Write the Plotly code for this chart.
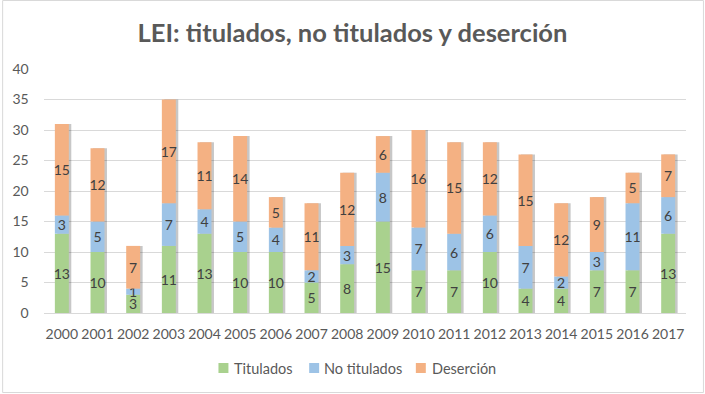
import plotly.graph_objects as go

years = [str(y) for y in range(2000, 2018)]
titulados = [13, 10, 3, 11, 13, 10, 10, 5, 8, 15, 7, 7, 10, 4, 4, 7, 7, 13]
no_titulados = [3, 5, 1, 7, 4, 5, 4, 2, 3, 8, 7, 6, 6, 7, 2, 3, 11, 6]
desercion = [15, 12, 7, 17, 11, 14, 5, 11, 12, 6, 16, 15, 12, 15, 12, 9, 5, 7]

series_names = ["Titulados", "No titulados", "Deserción"]
series_values = [titulados, no_titulados, desercion]
series_colors = ["#a9d18e", "#9dc3e6", "#f4b183"]

FONT = "Lato, 'Open Sans', sans-serif"

W, H = 705, 394
ml, mr, mt, mb = 42, 19, 69, 81
pw, ph = W - ml - mr, H - mt - mb
cat_px = pw / len(years)          # pixels per category
bar_w = 14 / cat_px               # bar width in category units
shadow_dx = 2.5 / cat_px          # shadow offset to the right

# stacked bases computed from the data
bases = []
acc = [0] * len(years)
for vals in series_values:
    bases.append(list(acc))
    acc = [a + v for a, v in zip(acc, vals)]
totals = acc

fig = go.Figure()
# soft drop shadow behind each stacked column
fig.add_trace(go.Bar(
    x=years, y=totals, showlegend=False, hoverinfo="skip",
    width=bar_w, offset=-bar_w / 2 + shadow_dx,
    marker=dict(color="rgba(0,0,0,0.22)", line=dict(width=0)),
))
for name, vals, base, color in zip(series_names, series_values, bases, series_colors):
    fig.add_trace(go.Bar(
        x=years, y=vals, base=base, name=name, showlegend=False,
        width=bar_w, offset=-bar_w / 2,
        marker=dict(color=color, line=dict(width=0)),
        text=[str(v) for v in vals],
        textposition="inside", insidetextanchor="middle", textangle=0,
        constraintext="none",
        textfont=dict(family=FONT, size=14, color="#404040"),
    ))


def px_x(px):
    return (px - ml) / pw


def px_y(py):
    return (H - mb - py) / ph


shapes = [dict(type="rect", xref="paper", yref="paper",
               x0=px_x(0.5), x1=px_x(W - 1.5),
               y0=px_y(H - 1.5), y1=px_y(0.5),
               line=dict(color="#d9d9d9", width=1), layer="below")]
annotations = []

# manual legend (square + label), as in the reference
legend_square_x = [217, 308, 415]
legend_text_x = [231, 321, 429]
leg_y = 368
for name, color, sx, tx in zip(series_names, series_colors, legend_square_x, legend_text_x):
    shapes.append(dict(type="rect", xref="paper", yref="paper",
                       x0=px_x(sx), x1=px_x(sx + 10),
                       y0=px_y(leg_y + 5), y1=px_y(leg_y - 5),
                       fillcolor=color, line=dict(width=0)))
    annotations.append(dict(xref="paper", yref="paper", x=px_x(tx), y=px_y(leg_y),
                            xanchor="left", yanchor="middle", showarrow=False,
                            text=name, font=dict(family=FONT, size=14.5, color="#595959")))

fig.update_layout(
    width=W, height=H,
    barmode="overlay",
    margin=dict(l=ml, r=mr, t=mt, b=mb),
    paper_bgcolor="white", plot_bgcolor="white",
    font=dict(family=FONT, color="#595959"),
    title=dict(text="<b>LEI: titulados, no titulados y deserción</b>",
               x=0.5, xanchor="center", y=1 - 33 / H, yanchor="middle",
               font=dict(size=25.5, color="#595959")),
    uniformtext=dict(minsize=13, mode="show"),
    showlegend=False,
    xaxis=dict(showline=True, linecolor="#d9d9d9", linewidth=1,
               tickfont=dict(size=14, color="#595959"), ticks="",
               ticklabelstandoff=8),
    yaxis=dict(range=[0, 40], dtick=5, showgrid=True, gridcolor="#d9d9d9",
               zeroline=False, tickfont=dict(size=14, color="#595959"),
               ticksuffix="    "),
    shapes=shapes,
    annotations=annotations,
)

fig.write_html("out.html", config={"displayModeBar": False},
               post_script="document.body.style.margin='0';")
